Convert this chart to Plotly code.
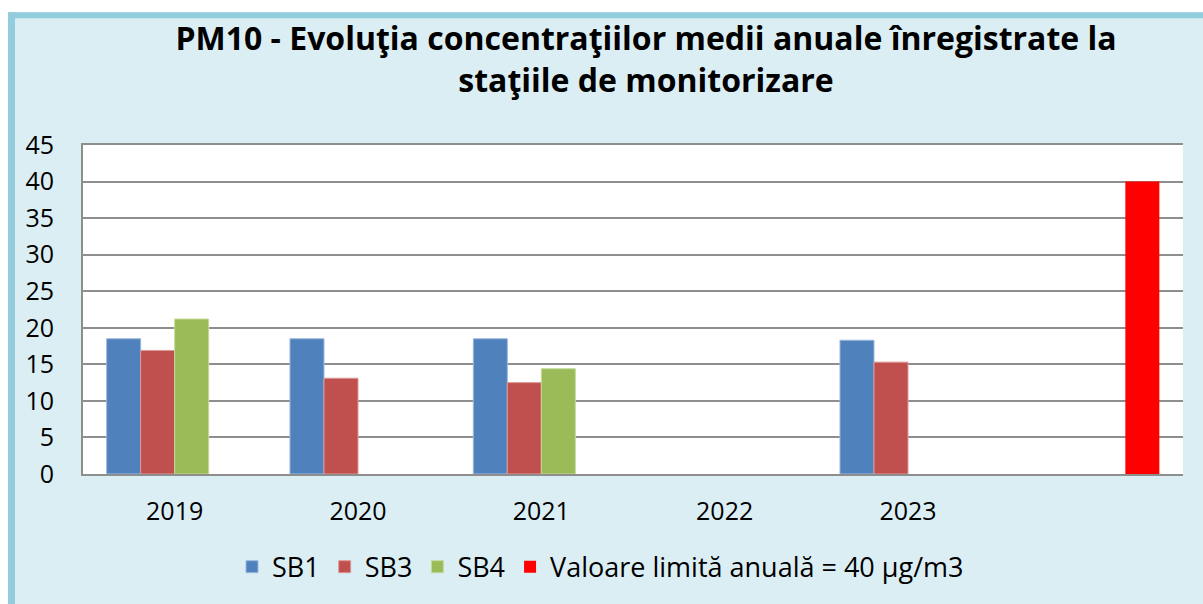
import plotly.graph_objects as go

# ---- data ----
categories = ["2019", "2020", "2021", "2022", "2023", " "]
sb1 = [18.5, 18.5, 18.5, None, 18.3, None]
sb3 = [16.9, 13.1, 12.5, None, 15.3, None]
sb4 = [21.2, None, 14.4, None, None, None]
limit = [None, None, None, None, None, 40]

series_names = ["SB1", "SB3", "SB4", "Valoare limită anuală = 40 µg/m3"]
series_values = [sb1, sb3, sb4, limit]
series_colors = ["#4F81BD", "#C0504D", "#9BBB59", "#FF0000"]
series_lines = ["#9DB8DC", "#DA9A98", "#C5DA9A", "#FF0000"]
series_linew = [1, 1, 1, 0]

title_text = ("<b>PM10 - Evoluţia concentraţiilor medii anuale înregistrate la<br>"
              "staţiile de monitorizare</b>")

# ---- layout geometry ----
W, H = 1203, 604
ML, MR, MT, MB = 83, 20, 145, 127
PW, PH = W - ML - MR, H - MT - MB


def px_x(p):
    return (p - ML) / PW


def px_y(p):
    return (H - MB - p) / PH


FONT = "Open Sans"
PANEL = "#DBEEF4"
BORDER = "#93CDDD"
GRID = "#8E8E8E"

fig = go.Figure()
for name, vals, col, lc, lw in zip(series_names, series_values, series_colors,
                                   series_lines, series_linew):
    fig.add_trace(go.Bar(
        name=name, x=categories, y=vals,
        marker=dict(color=col, line=dict(color=lc, width=lw)),
    ))

shapes = [
    # white strips outside the panel
    dict(type="rect", xref="paper", yref="paper", x0=px_x(-5), x1=px_x(8),
         y0=px_y(H + 5), y1=px_y(-5), fillcolor="white", line=dict(width=0), layer="below"),
    dict(type="rect", xref="paper", yref="paper", x0=px_x(-5), x1=px_x(W + 5),
         y0=px_y(11), y1=px_y(-5), fillcolor="white", line=dict(width=0), layer="below"),
    # thick border (left, top)
    dict(type="rect", xref="paper", yref="paper", x0=px_x(8), x1=px_x(15),
         y0=px_y(H + 5), y1=px_y(11), fillcolor=BORDER, line=dict(width=0), layer="below"),
    dict(type="rect", xref="paper", yref="paper", x0=px_x(8), x1=px_x(W + 5),
         y0=px_y(17), y1=px_y(11), fillcolor=BORDER, line=dict(width=0), layer="below"),
]

fig.update_layout(
    width=W, height=H,
    margin=dict(l=ML, r=MR, t=MT, b=MB, pad=0),
    paper_bgcolor=PANEL, plot_bgcolor="white",
    font=dict(family=FONT, color="black", size=25),
    title=dict(text=title_text, x=646 / W, xanchor="center",
               y=1 - 50 / H, yanchor="top",
               font=dict(family=FONT, size=32, color="black")),
    barmode="group", bargap=0.258, bargroupgap=0,
    showlegend=True,
    legend=dict(orientation="h", x=px_x(232), xanchor="left",
                y=px_y(571), yanchor="middle", bgcolor="rgba(0,0,0,0)",
                font=dict(family=FONT, size=27), traceorder="normal"),
    shapes=shapes,
)

fig.update_xaxes(
    type="category", categoryorder="array", categoryarray=categories,
    showline=True, linecolor=GRID, linewidth=2, mirror=True,
    showgrid=False, ticks="outside", ticklen=14, tickcolor="rgba(0,0,0,0)",
    tickfont=dict(family=FONT, size=25),
)
fig.update_yaxes(
    range=[0, 45], dtick=5, tick0=0,
    showline=True, linecolor=GRID, linewidth=2,
    showgrid=True, gridcolor=GRID, gridwidth=2, zeroline=False,
    ticks="outside", ticklen=22, tickcolor="rgba(0,0,0,0)",
    tickfont=dict(family=FONT, size=25),
)

fig.write_html("out.html", config={"displayModeBar": False},
               post_script="document.body.style.margin='0';document.body.style.overflow='hidden';")
